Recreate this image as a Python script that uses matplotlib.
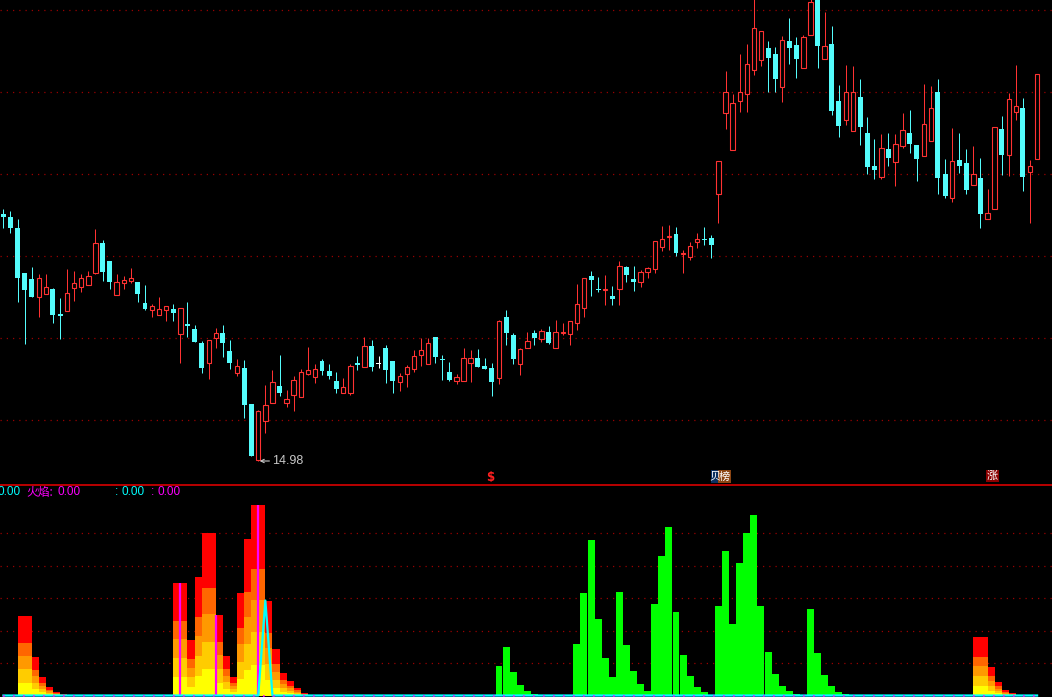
import matplotlib
import matplotlib.pyplot as plt
from matplotlib.patches import Rectangle

plt.switch_backend("agg")

W, H = 1052, 697

# ---- price candles (index 0..146) ----
OPEN = [19.92, 19.86, 19.64, 18.74, 18.62, 18.26, 18.32, 18.42, 17.92, 17.98,
        18.44, 18.46, 18.50, 18.74, 19.34, 18.98, 18.30, 18.54, 18.58, 18.56,
        18.14, 18.00, 17.90, 18.00, 18.02, 17.52, 17.72, 17.62, 17.34, 16.94,
        17.44, 17.54, 17.18, 16.74, 16.84, 16.12, 15.00, 15.78, 16.14, 16.48,
        16.14, 16.30, 16.26, 16.72, 16.66, 16.98, 16.78, 16.58, 16.34, 16.34,
        16.94, 16.86, 17.28, 16.92, 17.24, 16.98, 16.56, 16.72, 16.82, 17.10,
        16.92, 17.46, 17.02, 16.76, 16.58, 16.58, 16.94, 17.04, 16.88, 16.84,
        16.64, 17.86, 17.50, 16.92, 17.24, 17.54, 17.42, 17.56, 17.24, 17.54,
        17.52, 17.74, 18.04, 18.68, 18.42, 18.40, 18.28, 18.42, 18.86, 18.62,
        18.56, 18.76, 18.82, 19.26, 19.47, 19.52, 19.13, 19.06, 19.36, 19.43,
        19.44, 20.32, 21.94, 21.20, 22.18, 22.32, 22.80, 23.00, 23.24, 23.12,
        22.46, 23.38, 23.30, 22.84, 23.50, 24.30, 23.02, 23.32, 22.18, 21.80,
        21.58, 22.26, 21.54, 20.88, 20.66, 21.22, 20.96, 21.28, 21.54, 21.30,
        21.08, 21.38, 22.36, 20.72, 20.24, 21.00, 20.94, 20.50, 20.64, 19.82,
        20.02, 21.62, 21.10, 21.96, 22.04, 20.76, 21.02]
HIGH = [20.02, 19.98, 19.82, 18.74, 18.86, 18.72, 18.72, 18.44, 18.24, 18.82,
        18.78, 18.72, 18.78, 19.62, 19.40, 18.98, 18.72, 18.68, 18.84, 18.56,
        18.50, 18.12, 18.26, 18.08, 18.12, 18.04, 18.16, 17.70, 17.38, 17.40,
        17.64, 17.70, 17.40, 17.02, 17.00, 16.12, 16.00, 16.50, 16.80, 17.10,
        16.40, 16.68, 16.82, 17.26, 16.92, 17.02, 16.92, 16.76, 16.64, 16.92,
        17.08, 17.46, 17.40, 17.08, 17.30, 16.98, 16.74, 16.90, 17.20, 17.44,
        17.44, 17.46, 17.10, 16.96, 16.72, 17.24, 17.20, 17.22, 17.04, 16.94,
        17.80, 18.00, 17.54, 17.24, 17.56, 17.60, 17.62, 17.68, 17.80, 17.74,
        17.78, 18.52, 18.64, 18.78, 18.66, 18.70, 18.48, 18.98, 18.88, 18.88,
        18.80, 18.86, 19.38, 19.68, 19.70, 19.66, 19.20, 19.36, 19.54, 19.66,
        19.50, 20.98, 22.78, 22.32, 23.12, 23.32, 24.30, 23.58, 23.38, 23.26,
        23.48, 23.84, 23.46, 23.50, 24.40, 24.50, 23.96, 23.68, 22.50, 22.90,
        22.88, 22.62, 21.86, 21.42, 21.52, 21.54, 21.52, 21.94, 22.00, 21.30,
        22.52, 22.48, 22.62, 21.02, 21.64, 21.54, 21.22, 21.28, 21.04, 20.42,
        21.66, 21.88, 22.34, 22.90, 22.24, 21.00, 22.72]
LOW = [19.64, 19.54, 18.16, 17.32, 18.26, 17.86, 18.32, 17.74, 17.42, 17.98,
       18.18, 18.36, 18.50, 18.72, 18.58, 18.42, 18.30, 18.42, 18.54, 18.16,
       18.00, 17.86, 17.90, 17.78, 17.78, 16.94, 17.46, 17.36, 16.74, 16.62,
       17.24, 17.06, 16.82, 16.68, 15.84, 15.08, 14.98, 15.54, 16.14, 16.28,
       16.06, 15.98, 16.26, 16.70, 16.54, 16.70, 16.62, 16.34, 16.34, 16.30,
       16.80, 16.86, 16.78, 16.84, 16.54, 16.34, 16.38, 16.46, 16.76, 16.88,
       16.92, 16.94, 16.60, 16.58, 16.52, 16.58, 16.56, 16.86, 16.82, 16.28,
       16.52, 17.30, 16.92, 16.70, 17.24, 17.30, 17.36, 17.32, 17.24, 17.50,
       17.30, 17.60, 17.86, 18.28, 18.36, 18.10, 18.10, 18.10, 18.56, 18.38,
       18.46, 18.64, 18.74, 19.18, 19.20, 19.08, 18.74, 19.00, 19.24, 19.30,
       19.04, 19.74, 21.62, 21.20, 21.96, 21.96, 22.70, 22.88, 22.36, 22.36,
       22.16, 22.92, 22.64, 22.84, 23.50, 22.84, 23.02, 21.90, 21.46, 21.70,
       21.58, 21.30, 20.72, 20.62, 20.62, 20.88, 20.48, 21.24, 21.14, 20.58,
       21.08, 21.38, 20.32, 20.24, 20.16, 20.74, 20.32, 20.50, 19.64, 19.82,
       20.02, 20.70, 20.68, 21.80, 20.38, 19.74, 21.02]
CLOSE = [19.86, 19.64, 18.64, 18.40, 18.26, 18.64, 18.46, 17.90, 17.88, 18.34,
         18.54, 18.64, 18.68, 19.34, 18.76, 18.56, 18.56, 18.60, 18.64, 18.32,
         18.02, 18.08, 18.02, 18.08, 17.94, 18.04, 17.68, 17.36, 16.84, 17.40,
         17.54, 17.34, 16.94, 16.88, 16.10, 15.08, 15.98, 16.10, 16.56, 16.34,
         16.22, 16.60, 16.76, 16.80, 16.82, 16.78, 16.68, 16.42, 16.46, 16.88,
         16.90, 17.28, 16.86, 16.92, 16.80, 16.58, 16.68, 16.86, 17.08, 17.20,
         17.34, 17.06, 17.00, 16.60, 16.66, 17.04, 17.04, 16.86, 16.82, 16.56,
         17.78, 17.54, 17.02, 17.22, 17.38, 17.44, 17.58, 17.34, 17.56, 17.56,
         17.78, 18.12, 18.64, 18.60, 18.40, 18.42, 18.22, 18.88, 18.70, 18.56,
         18.76, 18.84, 19.38, 19.42, 19.49, 19.14, 19.15, 19.28, 19.42, 19.41,
         19.30, 20.98, 22.36, 22.14, 22.36, 22.92, 23.64, 23.58, 23.04, 22.62,
         23.40, 23.24, 23.02, 23.46, 24.16, 23.28, 23.28, 21.98, 21.68, 22.36,
         22.36, 21.66, 20.86, 20.80, 21.24, 21.04, 21.32, 21.60, 21.32, 21.02,
         21.72, 22.04, 20.64, 20.28, 20.98, 20.88, 20.40, 20.72, 19.92, 19.94,
         21.66, 21.10, 22.22, 22.08, 20.66, 20.88, 22.72]
LOW_MARK = 14.98

# ---- lower indicator panel ----
FLAME_IDX = [2, 3, 4, 5, 6, 7, 8,
             24, 25, 26, 27, 28, 29, 30, 31, 32, 33, 34, 35, 36, 37, 38, 39, 40, 41, 42,
             137, 138, 139, 140, 141, 142, 143]
FLAME_VAL = [48, 48, 23.4, 11.4, 5.4, 2.4, 0.9,
             67.8, 67.8, 33.6, 71.4, 97.8, 97.8, 48.6, 24, 11.4, 61.8, 94.2, 114.6, 114.6,
             57, 28.2, 13.8, 9, 4.8, 1.8,
             35.4, 35.4, 17.4, 8.4, 3.6, 1.8, 0.6]
GREEN_IDX = [70, 71, 72, 73, 74, 75,
             81, 82, 83, 84, 85, 86, 87, 88, 89, 90, 91, 92, 93, 94, 95, 96, 97, 98, 99,
             100, 101, 102, 103, 104, 105, 106, 107, 108, 109, 110, 111, 112,
             114, 115, 116, 117, 118, 119]
GREEN_VAL = [18, 29.4, 14.4, 6.6, 3, 1.2,
             31.2, 61.8, 93.6, 46.2, 22.8, 11.4, 62.4, 30.6, 15, 7.2, 3, 55.2, 84, 101.4,
             50.4, 24.6, 12, 5.4, 2.4, 0.6, 54, 87, 43.2, 79.8, 97.8, 108.6, 54, 26.4,
             13.2, 6, 3, 1.2,
             52.2, 25.8, 12.6, 6, 2.4, 1.2]
SIGNAL_IDX = [25, 30, 36]
SIGNAL_VAL = [67.8, 48.6, 114.6]
LINE_IDX = [0, 36, 37, 38, 146]
LINE_VAL = [0, 0, 57, 0, 0]

GRID_TOP = [24.0, 22.36, 20.72, 19.08, 17.44, 15.80]
GRID_BOT = [19.5, 39.0, 58.5, 78.0, 97.5]

# flame layers: (fraction of bar height, colour), drawn tallest first
FLAME_LAYERS = [(1.0, "#FF0000"), (0.66, "#FF6600"), (0.5, "#FF9900"),
                (0.33, "#FFCC00"), (0.16, "#FFFF00")]

UP = "#FF3232"
DOWN = "#54FCFC"
GRIDC = "#9A0000"


def fx(px):
    return px / W


def fy(py):
    return 1 - py / H


fig = plt.figure(figsize=(W / 100, H / 100), dpi=100, facecolor="black")
split = 484
ax = fig.add_axes([0, fy(split), 1, split / H])
axb = fig.add_axes([0, 0, 1, fy(split)])

xlim = (-3.4 / 7.08, (W - 3.4) / 7.08)
for a in (ax, axb):
    a.set_facecolor("black")
    a.set_xlim(*xlim)
    a.set_xticks([])
    a.set_yticks([])
    for s in a.spines.values():
        s.set_visible(False)

ax.set_ylim(24.2 - 0.02 * split, 24.2)
axb.set_ylim(-0.9, 126.9)

for g in GRID_TOP:
    ax.axhline(g, color=GRIDC, lw=0.9, linestyle=(0, (1, 4)), zorder=0)
for g in GRID_BOT:
    axb.axhline(g, color=GRIDC, lw=0.9, linestyle=(0, (1, 4)), zorder=0)

# candles
px = 0.72
for i in range(len(OPEN)):
    o, h, l, c = OPEN[i], HIGH[i], LOW[i], CLOSE[i]
    if c > o:
        col = UP
    elif c < o:
        col = DOWN
    else:
        col = "white"
    ax.vlines(i, l, h, color=col, lw=px, zorder=2)
    bot = min(o, c)
    ht = max(abs(c - o), 0.02)
    if c > o:
        ax.bar(i, ht, bottom=bot, width=0.62, facecolor="black",
               edgecolor=col, lw=1.1 * px, zorder=3)
    else:
        ax.bar(i, ht, bottom=bot, width=0.7, color=col, lw=0, zorder=3)

ax.annotate("14.98", xy=(36, LOW_MARK), xytext=(10, 0), textcoords="offset points",
            color="#C8C8C8", fontsize=9, family="Liberation Sans", va="center",
            arrowprops=dict(arrowstyle="->", color="#C8C8C8", lw=0.8,
                            shrinkA=0, shrinkB=1, mutation_scale=6))

# lower panel bars
for frac, col in FLAME_LAYERS:
    axb.bar([k + 0.5 for k in FLAME_IDX], [v * frac for v in FLAME_VAL],
            width=1.0, color=col, lw=0, zorder=2)
axb.bar(GREEN_IDX, GREEN_VAL, width=0.98, color="#00FF00", lw=0, zorder=2)
axb.vlines(SIGNAL_IDX, 0, SIGNAL_VAL, color="#FF00FF", lw=1.6, zorder=4)
axb.plot(LINE_IDX, LINE_VAL, color="#00FFFF", lw=1.6, zorder=5)
axb.plot([LINE_IDX[0], LINE_IDX[-1]], [0, 0], color="#FF00FF", lw=1.2,
         linestyle=(0, (1, 5)), zorder=6)

# separator
fig.add_artist(plt.Line2D([0, 1], [fy(484.5), fy(484.5)], color="#C80000", lw=1.3))

# indicator title row
num = dict(family="Liberation Sans", fontsize=8.5, va="center")
cjk = ["Noto Sans CJK SC", "DejaVu Sans"]
ty = fy(492)
fig.text(fx(-2), ty, "0.00", color="#00FFFF", **num)
fig.text(fx(26), ty, "火焰:", color="#FF00FF", family=cjk, fontsize=8.5, va="center")
fig.text(fx(57), ty, "0.00", color="#FF00FF", **num)
fig.text(fx(115), ty, ":", color="#00FFFF", **num)
fig.text(fx(122), ty, "0.00", color="#00FFFF", **num)
fig.text(fx(151), ty, ":", color="#FF00FF", **num)
fig.text(fx(157), ty, "0.00", color="#FF00FF", **num)

# event markers above the separator
fig.text(fx(490), fy(477), "$", color="#FF2020", family="DejaVu Sans",
         fontsize=8.5, fontweight="bold", ha="center", va="center")


def badge(x0, x1, y0, y1, txt, bg):
    fig.add_artist(Rectangle((fx(x0), fy(y1)), fx(x1) - fx(x0), fy(y0) - fy(y1),
                             transform=fig.transFigure, facecolor=bg, lw=0))
    fig.text(fx((x0 + x1) / 2), fy((y0 + y1) / 2), txt, color="white", family=cjk,
             fontsize=8, ha="center", va="center")


badge(711, 719, 470, 483, "贝", "#0B3060")
badge(718, 731, 470, 483, "榜", "#8B4513")
badge(986, 999, 470, 482, "涨", "#8B0000")

fig.savefig("out.png", dpi=100, facecolor="black")
